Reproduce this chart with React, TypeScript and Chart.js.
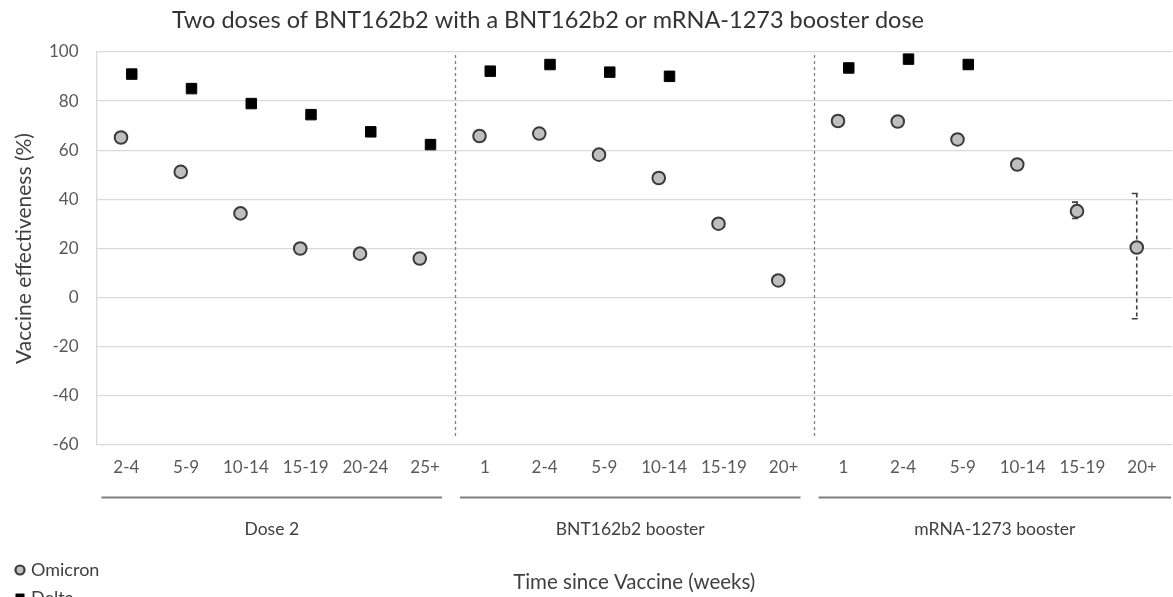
import React, { useEffect, useRef } from 'react';
import { Chart, registerables } from 'chart.js';

Chart.register(...registerables);

// ---------- data ----------
const categories = [
  '2-4', '5-9', '10-14', '15-19', '20-24', '25+',
  '1', '2-4', '5-9', '10-14', '15-19', '20+',
  '1', '2-4', '5-9', '10-14', '15-19', '20+',
];
const groupNames = ['Dose 2', 'BNT162b2 booster', 'mRNA-1273 booster'];
const groupSizes = [6, 6, 6];

const omicronValues = [
  65.2, 51.2, 34.3, 20.0, 17.9, 15.9,
  65.8, 66.8, 58.2, 48.7, 30.1, 7.0,
  71.9, 71.7, 64.4, 54.2, 35.2, 20.4,
];
const deltaValues: (number | null)[] = [
  91.0, 85.1, 79.0, 74.5, 67.5, 62.3,
  92.2, 94.9, 91.8, 90.1, null, null,
  93.5, 97.1, 94.9, null, null, null,
];
const omicronLower: (number | null)[] = [
  null, null, null, null, null, null,
  null, null, null, null, null, null,
  null, null, null, null, 32.2, -8.6,
];
const omicronUpper: (number | null)[] = [
  null, null, null, null, null, null,
  null, null, null, null, null, null,
  null, null, null, null, 38.9, 42.4,
];

const yMin = -60;
const yMax = 100;
const yStep = 20;

const chartTitle = 'Two doses of BNT162b2 with a BNT162b2 or mRNA-1273 booster dose';
const xTitle = 'Time since Vaccine (weeks)';
const yTitle = 'Vaccine effectiveness (%)';
const seriesNames = ['Omicron', 'Delta'];

// ---------- style ----------
const FONT = 'Lato, "Noto Sans", sans-serif';
const OFFSET = 0.09;
const W = 1173;
const H = 597;

const annotate = {
  id: 'annotate',
  beforeDatasetsDraw(chart: any) {
    const { ctx, chartArea, scales } = chart;
    const xs = scales.x;
    const ys = scales.y;
    ctx.save();
    // group separators
    let acc = 0;
    ctx.strokeStyle = '#7f7f7f';
    ctx.lineWidth = 1.3;
    ctx.setLineDash([3, 3]);
    for (let g = 0; g < groupSizes.length - 1; g++) {
      acc += groupSizes[g];
      const px = Math.round(xs.getPixelForValue(acc - 0.5)) + 0.5;
      ctx.beginPath();
      ctx.moveTo(px, chartArea.top + 3);
      ctx.lineTo(px, chartArea.bottom - 7);
      ctx.stroke();
    }
    // error bars
    ctx.strokeStyle = '#404040';
    ctx.lineWidth = 1.6;
    for (let i = 0; i < categories.length; i++) {
      const lo = omicronLower[i];
      const hi = omicronUpper[i];
      if (lo == null || hi == null) continue;
      const px = xs.getPixelForValue(i - OFFSET);
      const y1 = ys.getPixelForValue(hi);
      const y2 = ys.getPixelForValue(lo);
      ctx.setLineDash([4, 3]);
      ctx.beginPath();
      ctx.moveTo(px, y1);
      ctx.lineTo(px, y2);
      ctx.stroke();
      ctx.setLineDash([]);
      ctx.beginPath();
      ctx.moveTo(px - 5, y1);
      ctx.lineTo(px + 1, y1);
      ctx.moveTo(px - 5, y2);
      ctx.lineTo(px + 1, y2);
      ctx.stroke();
    }
    ctx.restore();
  },
  afterDraw(chart: any) {
    const { ctx, chartArea, scales } = chart;
    const xs = scales.x;
    ctx.save();
    // title
    ctx.fillStyle = '#333333';
    ctx.font = `23.5px ${FONT}`;
    ctx.textAlign = 'center';
    ctx.textBaseline = 'alphabetic';
    ctx.fillText(chartTitle, 548, 28);

    // group lines + labels
    let start = 0;
    for (let g = 0; g < groupSizes.length; g++) {
      const end = start + groupSizes[g];
      const left = xs.getPixelForValue(start - 0.5) + 5;
      const right = g === groupSizes.length - 1
        ? xs.getPixelForValue(end - 0.5) - 1
        : xs.getPixelForValue(end - 0.5) - 13;
      const ly = chartArea.bottom + 52.5;
      ctx.strokeStyle = '#7f7f7f';
      ctx.lineWidth = 2;
      ctx.setLineDash([]);
      ctx.beginPath();
      ctx.moveTo(left, ly);
      ctx.lineTo(right, ly);
      ctx.stroke();
      ctx.fillStyle = '#404040';
      ctx.font = `17.5px ${FONT}`;
      ctx.textAlign = 'center';
      ctx.textBaseline = 'middle';
      ctx.fillText(groupNames[g], (left + right) / 2, chartArea.bottom + 84);
      start = end;
    }

    // legend
    const ds = chart.data.datasets;
    const lx = 20;
    const lys = [570, 598];
    ctx.font = `18px ${FONT}`;
    ctx.textAlign = 'left';
    ctx.textBaseline = 'middle';
    for (let k = 0; k < ds.length; k++) {
      const d = ds[k];
      const y = lys[k];
      ctx.fillStyle = d.backgroundColor;
      ctx.strokeStyle = d.borderColor;
      ctx.lineWidth = 2.2;
      if (d.pointStyle === 'circle') {
        ctx.beginPath();
        ctx.arc(lx, y, 4.5, 0, Math.PI * 2);
        ctx.fill();
        ctx.stroke();
      } else {
        ctx.fillRect(lx - 4.5, y - 4.5, 9, 9);
      }
      ctx.fillStyle = '#404040';
      ctx.fillText(d.label, lx + 11, y);
    }
    ctx.restore();
  },
};

export default function App() {
  const ref = useRef<HTMLCanvasElement | null>(null);

  useEffect(() => {
    if (!ref.current) return;
    const omicronPts = omicronValues
      .map((v, i) => (v == null ? null : { x: i - OFFSET, y: v }))
      .filter((p) => p !== null);
    const deltaPts = deltaValues
      .map((v, i) => (v == null ? null : { x: i + OFFSET, y: v }))
      .filter((p) => p !== null);

    const chart = new Chart(ref.current, {
      type: 'scatter',
      data: {
        datasets: [
          {
            label: seriesNames[0],
            data: omicronPts as any,
            pointStyle: 'circle',
            pointRadius: 6.3,
            pointBorderWidth: 2,
            backgroundColor: '#bfbfbf',
            borderColor: '#3a3a3a',
            pointHoverRadius: 6.3,
          },
          {
            label: seriesNames[1],
            data: deltaPts as any,
            pointStyle: 'rect',
            pointRadius: 7.4,
            pointBorderWidth: 1,
            backgroundColor: '#000000',
            borderColor: '#000000',
            pointHoverRadius: 7.4,
          },
        ],
      },
      options: {
        responsive: false,
        animation: false,
        events: [],
        layout: { autoPadding: false, padding: { top: 52, right: 1, left: 0, bottom: 0 } },
        plugins: {
          legend: { display: false },
          tooltip: { enabled: false },
          title: { display: false },
        },
        scales: {
          x: {
            type: 'linear',
            min: -0.5,
            max: categories.length - 0.5,
            afterBuildTicks: (scale: any) => {
              scale.ticks = categories.map((_, i) => ({ value: i }));
            },
            afterFit: (scale: any) => {
              scale.height = 152;
              scale.paddingLeft = 0;
              scale.paddingRight = 0;
            },
            ticks: {
              autoSkip: false,
              maxRotation: 0,
              minRotation: 0,
              padding: 12,
              color: '#595959',
              font: { family: FONT, size: 17 },
              callback: (v: any) => categories[Math.round(Number(v))] ?? '',
            },
            grid: { display: false, drawTicks: false },
            border: { display: false },
            title: {
              display: true,
              text: xTitle,
              color: '#404040',
              font: { family: FONT, size: 20.5 },
              padding: { top: 0, bottom: 2 },
            },
          },
          y: {
            type: 'linear',
            min: yMin,
            max: yMax,
            afterFit: (scale: any) => {
              scale.width = 96.5;
            },
            ticks: {
              stepSize: yStep,
              padding: 18,
              color: '#595959',
              font: { family: FONT, size: 17 },
            },
            grid: { color: '#d9d9d9', lineWidth: 1.3, drawTicks: false },
            border: { display: true, color: '#d9d9d9', width: 1.3 },
            title: {
              display: true,
              text: yTitle,
              color: '#404040',
              font: { family: FONT, size: 21 },
              padding: { top: 12, bottom: 0 },
            },
          },
        },
      },
      plugins: [annotate],
    });
    return () => chart.destroy();
  }, []);

  return (
    <div style={{ position: 'fixed', left: 0, top: 0, width: W, height: H, background: '#fff' }}>
      <canvas ref={ref} width={W} height={H} style={{ width: W, height: H }} />
    </div>
  );
}
